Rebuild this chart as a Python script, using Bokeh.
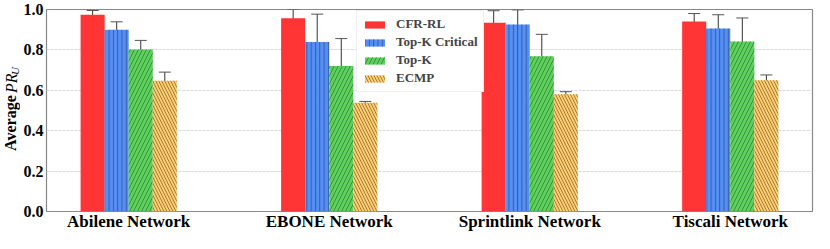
import numpy as np
from bokeh.plotting import figure
from bokeh.layouts import row
from bokeh.models import (ColumnDataSource, Whisker, TeeHead, FixedTicker,
                          Legend, LegendItem)
from bokeh.core.properties import value
from bokeh.embed import file_html
from bokeh.resources import INLINE

networks = ["Abilene Network", "EBONE Network", "Sprintlink Network", "Tiscali Network"]
methods = ["CFR-RL", "Top-K Critical", "Top-K", "ECMP"]

cfr_rl = [0.974, 0.957, 0.935, 0.940]
cfr_rl_lo = [0.954, 0.909, 0.876, 0.902]
cfr_rl_hi = [0.995, 1.000, 0.994, 0.980]

topk_crit = [0.900, 0.839, 0.926, 0.906]
topk_crit_lo = [0.860, 0.694, 0.850, 0.837]
topk_crit_hi = [0.939, 0.977, 0.998, 0.974]

topk = [0.802, 0.720, 0.768, 0.842]
topk_lo = [0.754, 0.585, 0.664, 0.725]
topk_hi = [0.847, 0.856, 0.877, 0.958]

ecmp = [0.647, 0.538, 0.580, 0.650]
ecmp_lo = [0.602, 0.530, 0.565, 0.624]
ecmp_hi = [0.690, 0.545, 0.593, 0.676]

y_ticks = [0.0, 0.2, 0.4, 0.6, 0.8, 1.0]

series = [
    (cfr_rl, cfr_rl_lo, cfr_rl_hi),
    (topk_crit, topk_crit_lo, topk_crit_hi),
    (topk, topk_lo, topk_hi),
    (ecmp, ecmp_lo, ecmp_hi),
]
colors = ["#ff3434", "#5590f5", "#5cd25c", "#ffcc6e"]
hatches = [" ", "|", "/", "\\"]
hatch_colors = [None, "#1f3a80", "#2a6a2a", "#6a5020"]
hatch_scales = [12, 4.3, 8, 6]

FONT = "Liberation Serif"
H = 233
LAB_W = 20

# ---------------- main plot ----------------
p = figure(width=814 - LAB_W, height=H, output_backend="svg", toolbar_location=None,
           x_range=(-0.41, 3.41), y_range=(0, 1.0),
           min_border_left=0, min_border_right=2, min_border_top=9, min_border_bottom=0)

width = 0.12
idx = np.arange(len(networks))
items = []
for k, ((vals, lo, hi), name) in enumerate(zip(series, methods)):
    xs = idx + (k - 1.5) * width
    src = ColumnDataSource(dict(x=xs, top=vals, lower=lo, upper=hi))
    kw = {}
    if hatches[k] != " ":
        kw = dict(hatch_pattern=hatches[k], hatch_color=hatch_colors[k],
                  hatch_scale=hatch_scales[k], hatch_weight=0.8, hatch_alpha=0.8)
    r = p.vbar(x="x", top="top", width=width, bottom=0, source=src,
               fill_color=colors[k], line_color=None, **kw)
    items.append(LegendItem(label=name, renderers=[r]))
    w = Whisker(base="x", lower="lower", upper="upper", source=src,
                line_color="#333333", line_width=1,
                upper_head=TeeHead(size=12, line_color="#555555", line_width=1),
                lower_head=TeeHead(size=12, line_color="#333333", line_width=1))
    p.add_layout(w)

legend = Legend(items=items, location=(310, 119), label_text_font=FONT,
                label_text_font_style="bold", label_text_font_size="13px",
                glyph_width=25, glyph_height=9, label_height=16, spacing=2,
                padding=5, margin=0, border_line_color="#dddddd",
                background_fill_alpha=1.0, label_standoff=9)
p.add_layout(legend, "center")

p.xaxis.ticker = FixedTicker(ticks=list(idx))
p.xaxis.major_label_overrides = {int(i): n for i, n in zip(idx, networks)}
p.yaxis.ticker = FixedTicker(ticks=y_ticks)
p.yaxis.major_label_overrides = {t: f"{t:.1f}" for t in y_ticks}

for ax in (p.xaxis, p.yaxis):
    ax.major_label_text_font = FONT
    ax.major_label_text_font_style = "bold"
    ax.major_label_text_font_size = "16px"
    ax.major_label_text_color = "black"
    ax.major_tick_line_color = None
    ax.minor_tick_line_color = None
    ax.axis_line_color = None
    ax.major_tick_out = 0
    ax.major_tick_in = 0
p.xaxis.major_label_text_font_size = "17px"
p.xaxis.major_label_standoff = 0
p.yaxis.major_label_standoff = 3

p.xgrid.grid_line_color = None
p.ygrid.grid_line_color = "#d9d9d9"
p.ygrid.grid_line_dash = "3 1"
p.outline_line_color = "#888888"
p.outline_line_width = 1.2

# ---------------- y-axis title strip ----------------
lab = figure(width=LAB_W, height=H, output_backend="svg", toolbar_location=None,
             x_range=(0, LAB_W), y_range=(0, H), min_border=0)
lab.axis.visible = False
lab.grid.visible = False
lab.outline_line_color = None
ttl_parts = ["Average", "PR", "U"]
ttl_style = ["bold", "italic", "italic"]
ttl_size = ["16px", "16px", "11px"]
ttl_x = [10, 11, 14]
ttl_y = [102, 148, 162]
for t, st, sz, tx, ty in zip(ttl_parts, ttl_style, ttl_size, ttl_x, ttl_y):
    lab.text(x=[tx], y=[ty], text=[t], angle=np.pi / 2, text_font=value(FONT),
             text_font_style=st, text_font_size=sz, text_align="center",
             text_baseline="middle", text_color="black")

layout = row(lab, p, spacing=0)
open("out.html", "w").write(file_html(layout, INLINE))
